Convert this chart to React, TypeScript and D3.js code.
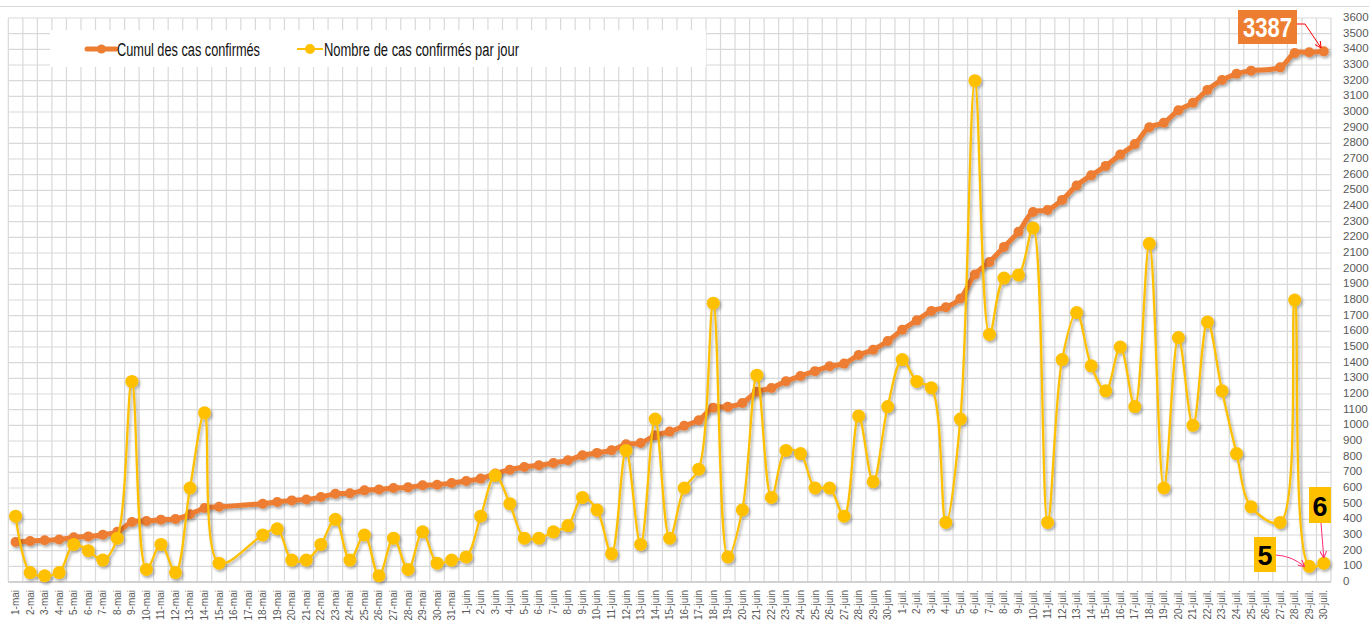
import React from "react";
import * as d3 from "d3";

// ---------- DATA ----------
const MONTHS = ["mai", "juin", "juil."];
const MONTH_DAYS = [31, 30, 30];
const LABELS: string[] = [];
MONTHS.forEach((m, mi) => {
  for (let d = 1; d <= MONTH_DAYS[mi]; d++) LABELS.push(`${d}-${m}`);
});

// Cumul des cas confirmés (null = no data that day)
const CUMUL_MAI = [255, 261, 266, 271, 286, 291, 302, 320, 383, 389, 398, 402, 432, 472, 480, null, null, 500, 511, 521, 527, 542, 563, 566, 585, 590, 600, 604, 617, 621, 632];
const CUMUL_JUIN = [645, 660, 692, 717, 734, 745, 760, 777, 809, 824, 841, 879, 887, 936, 960, 997, 1033, 1113, 1118, 1142, 1214, 1238, 1281, 1315, 1346, 1377, 1394, 1449, 1483, 1538];
const CUMUL_JUIL = [1610, 1670, 1730, 1754, 1810, 1963, 2043, 2139, 2235, 2362, 2374, 2439, 2531, 2596, 2656, 2728, 2795, 2903, 2932, 3011, 3059, 3141, 3204, 3244, 3264, null, 3285, 3376, 3381, 3387];

// Nombre de cas confirmés par jour (plotted on a hidden secondary axis 0-180)
const JOUR_MAI = [21, 3, 2, 3, 12, 10, 7, 14, 64, 4, 12, 3, 30, 54, 6, null, null, 15, 17, 7, 7, 12, 20, 7, 15, 2, 14, 4, 16, 6, 7];
const JOUR_JUIN = [8, 21, 34, 25, 14, 14, 16, 18, 27, 23, 9, 42, 12, 52, 14, 30, 36, 89, 8, 23, 66, 27, 42, 41, 30, 30, 21, 53, 32, 56];
const JOUR_JUIL = [71, 64, 62, 19, 52, 160, 79, 97, 98, 113, 19, 71, 86, 69, 61, 75, 56, 108, 30, 78, 50, 83, 61, 41, 24, null, 19, 90, 5, 6];

const CUMUL: (number | null)[] = [...CUMUL_MAI, ...CUMUL_JUIN, ...CUMUL_JUIL];
const JOUR: (number | null)[] = [...JOUR_MAI, ...JOUR_JUIN, ...JOUR_JUIL];

const Y_TICKS = d3.range(0, 3601, 100);
const SERIES_NAMES = ["Cumul des cas confirmés", "Nombre de cas confirmés par jour"];

// ---------- STYLE ----------
const W = 1369;
const H = 626;
const ORANGE = "#ED7D31";
const YELLOW = "#FFC000";
const GRID = "#D9D9D9";
const NARROW = "'Liberation Sans Narrow', 'Arial Narrow', 'Liberation Sans', Arial, sans-serif";
const SANS = "'Liberation Sans', Arial, sans-serif";

export default function App() {
  const x = d3.scaleBand<string>().domain(LABELS).range([8.3, 1331]).paddingInner(0).paddingOuter(0);
  const bw = x.bandwidth();
  const xc = (i: number) => (x(LABELS[i]) as number) + bw / 2;
  const y = d3.scaleLinear().domain([0, 3600]).range([582, 18]);
  const y2 = d3.scaleLinear().domain([0, 180]).range([582, 18]);

  const cumPts = CUMUL.map((v, i) => ({ i, v })).filter((d) => d.v != null) as { i: number; v: number }[];
  const jourPts = JOUR.map((v, i) => ({ i, v })).filter((d) => d.v != null) as { i: number; v: number }[];

  const curve = d3.curveCatmullRom.alpha(0.5);
  const cumLine = d3.line<{ i: number; v: number }>().x((d) => xc(d.i)).y((d) => y(d.v)).curve(curve);
  const jourLine = d3.line<{ i: number; v: number }>().x((d) => xc(d.i)).y((d) => y2(d.v)).curve(curve);

  const last = LABELS.length - 1;
  const lastCum = CUMUL[last] as number;
  const lastJour = JOUR[last] as number;
  const prevJour = JOUR[last - 1] as number;

  const tLastCum = { x: xc(last) - 3, y: y(lastCum) - 4 };
  const tLastJour = { x: xc(last), y: y2(lastJour) - 6 };
  const tPrevJour = { x: xc(last - 1) - 5, y: y2(prevJour) };

  const x0 = x(LABELS[0]) as number;
  const x1 = x0 + bw * LABELS.length;

  return (
    <div style={{ position: "absolute", left: 0, top: 0 }}>
      <svg width={W} height={H} style={{ display: "block", background: "#fff" }}>
        <defs>
          <filter id="shadow" x="-20%" y="-20%" width="140%" height="140%">
            <feDropShadow dx="1.5" dy="2" stdDeviation="1.4" floodColor="#000" floodOpacity="0.35" />
          </filter>
          <marker id="arrRed" viewBox="0 0 10 10" refX="9" refY="5" markerWidth="7" markerHeight="7" orient="auto-start-reverse">
            <path d="M0,0 L10,5 L0,10" fill="none" stroke="#FF0000" strokeWidth="1.5" />
          </marker>
          <marker id="arrPink" viewBox="0 0 10 10" refX="9" refY="5" markerWidth="7" markerHeight="7" orient="auto-start-reverse">
            <path d="M0,0 L10,5 L0,10" fill="none" stroke="#FF2D75" strokeWidth="1.5" />
          </marker>
        </defs>

        {/* chart border top */}
        <line x1={0} x2={W} y1={6.5} y2={6.5} stroke={GRID} strokeWidth={1} />

        {/* gridlines */}
        <g>
          {Y_TICKS.map((t) => (
            <line key={"h" + t} x1={x0} x2={x1} y1={y(t)} y2={y(t)} stroke={GRID} strokeWidth={1.2} />
          ))}
          {d3.range(0, LABELS.length + 1).map((k) => (
            <line key={"v" + k} x1={x0 + k * bw} x2={x0 + k * bw} y1={y(3600)} y2={y(0)} stroke={GRID} strokeWidth={1.2} />
          ))}
          <line x1={x0} x2={x1} y1={y(0)} y2={y(0)} stroke="#C8C8C8" strokeWidth={1.5} />
        </g>

        {/* y axis labels (right) */}
        <g fontFamily={SANS} fontSize={11.5} fill="#595959">
          {Y_TICKS.map((t) => (
            <text key={"yl" + t} x={1343} y={y(t)} dominantBaseline="middle">
              {t}
            </text>
          ))}
        </g>

        {/* x axis labels */}
        <g fontFamily={SANS} fontSize={10} fill="#595959">
          {LABELS.map((l, i) => (
            <text key={"xl" + i} transform={`translate(${xc(i) + 3.5},590) rotate(-90)`} textAnchor="end">
              {l}
            </text>
          ))}
        </g>

        {/* cumulative series */}
        <g filter="url(#shadow)">
          <path d={cumLine(cumPts) || ""} fill="none" stroke={ORANGE} strokeWidth={5} strokeLinejoin="round" strokeLinecap="round" />
          {cumPts.map((d) => (
            <circle key={"c" + d.i} cx={xc(d.i)} cy={y(d.v)} r={5} fill={ORANGE} />
          ))}
        </g>

        {/* daily series */}
        <g filter="url(#shadow)">
          <path d={jourLine(jourPts) || ""} fill="none" stroke={YELLOW} strokeWidth={2.25} strokeLinejoin="round" />
          {jourPts.map((d) => (
            <circle key={"j" + d.i} cx={xc(d.i)} cy={y2(d.v)} r={6.5} fill={YELLOW} />
          ))}
        </g>

        {/* legend */}
        <g>
          <rect x={50} y={30} width={656} height={37} fill="#fff" />
          <line x1={87} x2={116} y1={49} y2={49} stroke={ORANGE} strokeWidth={5} strokeLinecap="round" />
          <circle cx={101.5} cy={49} r={4.5} fill={ORANGE} />
          <text x={117} y={55.5} fontFamily={NARROW} fontSize={18} fill="#111" textLength={143} lengthAdjust="spacingAndGlyphs">
            {SERIES_NAMES[0]}
          </text>
          <line x1={297} x2={323} y1={49} y2={49} stroke={YELLOW} strokeWidth={2} />
          <circle cx={310} cy={49} r={5} fill={YELLOW} />
          <text x={324} y={55.5} fontFamily={NARROW} fontSize={18} fill="#111" textLength={195} lengthAdjust="spacingAndGlyphs">
            {SERIES_NAMES[1]}
          </text>
        </g>

        {/* annotations */}
        <g>
          <rect x={1238} y={10} width={59} height={34} fill={ORANGE} />
          <text x={1243} y={37} fontFamily={NARROW} fontWeight="bold" fontSize={27} fill="#fff" textLength={49} lengthAdjust="spacingAndGlyphs">
            {lastCum}
          </text>
          <polyline
            points={`1297,24 1305,24 ${tLastCum.x},${tLastCum.y}`}
            fill="none"
            stroke="#FF0000"
            strokeWidth={1}
            markerEnd="url(#arrRed)"
          />

          <rect x={1309} y={487} width={22} height={36} fill={YELLOW} />
          <text x={1320} y={516} textAnchor="middle" fontFamily={NARROW} fontWeight="bold" fontSize={28} fill="#000" textLength={15} lengthAdjust="spacingAndGlyphs">
            {lastJour}
          </text>
          <line x1={1321} y1={523} x2={tLastJour.x} y2={tLastJour.y} stroke="#FF2D75" strokeWidth={1} markerEnd="url(#arrPink)" />

          <rect x={1254} y={537} width={22} height={35} fill={YELLOW} />
          <text x={1265} y={565} textAnchor="middle" fontFamily={NARROW} fontWeight="bold" fontSize={28} fill="#000" textLength={15} lengthAdjust="spacingAndGlyphs">
            {prevJour}
          </text>
          <path
            d={`M1276,555 Q1292,556 ${tPrevJour.x},${tPrevJour.y}`}
            fill="none"
            stroke="#FF2D75"
            strokeWidth={1}
            markerEnd="url(#arrPink)"
          />
        </g>
      </svg>
    </div>
  );
}
